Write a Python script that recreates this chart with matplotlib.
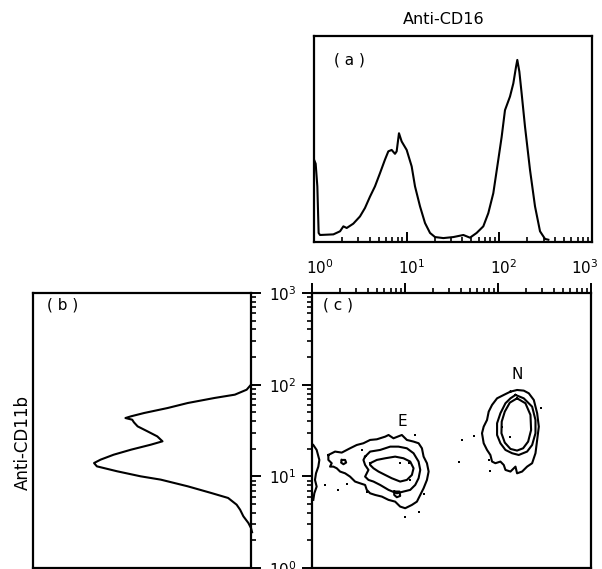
import numpy as np
import matplotlib
matplotlib.use("Agg")
import matplotlib.pyplot as plt
import matplotlib.transforms as mtransforms
from matplotlib.ticker import LogLocator, NullFormatter, NullLocator, LogFormatterSciNotation

plt.rcParams['font.family'] = ['DejaVu Sans']

# ---------------- data ----------------
# (a) Anti-CD16 histogram: log10 fluorescence and relative counts
a_log_fl = [0.000, 0.018, 0.036, 0.050, 0.065, 0.209, 0.281, 0.317, 0.353, 0.424,
            0.496, 0.550, 0.604, 0.658, 0.712, 0.766, 0.802, 0.838, 0.874, 0.892,
            0.917, 0.946, 1.000, 1.054, 1.090, 1.144, 1.198, 1.252, 1.306, 1.396,
            1.504, 1.612, 1.683, 1.755, 1.827, 1.881, 1.935, 1.989, 2.025, 2.061,
            2.115, 2.151, 2.180, 2.194, 2.216, 2.241, 2.277, 2.331, 2.385, 2.439,
            2.493, 2.529]
a_counts = [40, 38, 27, 4.4, 3.4, 3.7, 5.2, 7.6, 6.8, 8.9,
            12.4, 16.5, 22, 27, 33.4, 40, 44, 44.7, 42.8, 44,
            52.8, 48.8, 44.7, 36.7, 27, 17.3, 9.2, 4.4, 2.4, 1.9,
            2.4, 3.4, 2.1, 4.4, 7.6, 14, 23.7, 40, 51, 64,
            70.6, 77, 85, 88.4, 82.7, 72, 56, 35, 17.3, 5.2,
            1.5, 1.1]

# (b) Anti-CD11b histogram (rotated): log10 fluorescence and relative counts
b_log_fl = [2.0, 1.945, 1.891, 1.855, 1.8, 1.745, 1.691, 1.655, 1.636, 1.618,
            1.589, 1.545, 1.491, 1.436, 1.382, 1.345, 1.291, 1.236, 1.182, 1.145,
            1.109, 1.055, 1.0, 0.964, 0.891, 0.818, 0.764, 0.691, 0.636, 0.564,
            0.491, 0.436, 0.39]
b_counts = [0, 2, 7.4, 16.7, 29, 38.3, 49, 55, 57.6, 54.5,
            53.7, 52, 47.5, 43, 40.6, 46, 55, 63, 69, 72,
            70.7, 61.4, 50.6, 41.4, 29, 18.2, 10.5, 6.6, 5, 3.5,
            1.2, 0, -0.5]

# (c) two-parameter contours, vertices as (log10 CD16, log10 CD11b)
E_outer = [(0.176, 1.233), (0.248, 1.270), (0.320, 1.259), (0.409, 1.306), (0.481, 1.342),
           (0.553, 1.361), (0.625, 1.397), (0.697, 1.404), (0.787, 1.433), (0.823, 1.451),
           (0.876, 1.415), (0.966, 1.451), (1.020, 1.397), (1.092, 1.379), (1.146, 1.361),
           (1.182, 1.306), (1.200, 1.215), (1.236, 1.143), (1.254, 1.052), (1.236, 0.961),
           (1.200, 0.870), (1.164, 0.797), (1.128, 0.724), (1.074, 0.688), (1.002, 0.652),
           (0.948, 0.670), (0.894, 0.724), (0.823, 0.743), (0.751, 0.779), (0.679, 0.797),
           (0.625, 0.815), (0.589, 0.852), (0.571, 0.906), (0.517, 0.924), (0.463, 0.943),
           (0.409, 0.997), (0.356, 1.033), (0.302, 1.052), (0.266, 1.088), (0.230, 1.106),
           (0.194, 1.106), (0.212, 1.143), (0.176, 1.179)]
E_middle = [(0.571, 1.215), (0.625, 1.270), (0.733, 1.288), (0.841, 1.324), (0.930, 1.324),
            (1.020, 1.306), (1.092, 1.252), (1.146, 1.161), (1.164, 1.070), (1.146, 0.979),
            (1.110, 0.906), (1.056, 0.852), (0.984, 0.834), (0.912, 0.815), (0.823, 0.852),
            (0.733, 0.906), (0.661, 0.943), (0.607, 0.961), (0.571, 0.997), (0.607, 1.070),
            (0.571, 1.124), (0.553, 1.179)]
E_inner = [(0.625, 1.143), (0.697, 1.179), (0.787, 1.197), (0.894, 1.215), (0.984, 1.197),
           (1.056, 1.161), (1.092, 1.088), (1.074, 1.015), (1.020, 0.961), (0.948, 0.943),
           (0.858, 0.979), (0.787, 1.015), (0.715, 1.052), (0.661, 1.088), (0.625, 1.124)]
E_loop1 = [(0.320, 1.179), (0.356, 1.179), (0.367, 1.150), (0.338, 1.132), (0.313, 1.150)]
E_loop2 = [(0.884, 0.834), (0.941, 0.834), (0.948, 0.786), (0.912, 0.772), (0.884, 0.797)]
N_outer = [(2.134, 1.924), (2.205, 1.942), (2.277, 1.935), (2.331, 1.906), (2.385, 1.833),
           (2.421, 1.688), (2.439, 1.542), (2.421, 1.397), (2.403, 1.252), (2.367, 1.143),
           (2.313, 1.106), (2.259, 1.052), (2.205, 1.033), (2.188, 1.106), (2.134, 1.052),
           (2.080, 1.070), (2.062, 1.124), (2.026, 1.161), (1.972, 1.143), (1.936, 1.161),
           (1.918, 1.233), (1.882, 1.288), (1.846, 1.361), (1.828, 1.470), (1.846, 1.542),
           (1.882, 1.615), (1.900, 1.706), (1.936, 1.779), (1.990, 1.851), (2.062, 1.888)]
N_middle = [(2.188, 1.888), (2.277, 1.851), (2.367, 1.760), (2.403, 1.615), (2.403, 1.470),
            (2.367, 1.342), (2.313, 1.270), (2.223, 1.233), (2.152, 1.252), (2.080, 1.288),
            (2.026, 1.361), (1.990, 1.451), (1.990, 1.579), (2.026, 1.688), (2.080, 1.797),
            (2.134, 1.851)]
N_inner = [(2.205, 1.851), (2.295, 1.797), (2.349, 1.670), (2.356, 1.506), (2.324, 1.379),
           (2.270, 1.306), (2.205, 1.281), (2.134, 1.299), (2.073, 1.368), (2.037, 1.470),
           (2.040, 1.597), (2.073, 1.706), (2.127, 1.804)]
edge_events = [(0.014, 1.342), (0.050, 1.288), (0.079, 1.179), (0.068, 1.106), (0.043, 1.033),
               (0.032, 0.961), (0.050, 0.888), (0.025, 0.815), (0.014, 0.743)]
dots = [(1.110, 1.451), (0.535, 1.288), (0.140, 0.906), (0.284, 0.852), (0.381, 0.917),
        (0.948, 1.143), (1.038, 1.143), (1.056, 0.961), (1.200, 0.808), (1.002, 0.561),
        (1.146, 0.615), (1.613, 1.397), (1.746, 1.444), (1.577, 1.161), (1.900, 1.179),
        (1.918, 1.063), (2.044, 1.542), (2.134, 1.433), (2.457, 1.742), (0.589, 0.834)]

# ---------------- figure ----------------
W, H = 602, 569
fig = plt.figure(figsize=(W / 100, H / 100), dpi=100)

def rect(l, t, r, b):
    return [l / W, 1 - b / H, (r - l) / W, (b - t) / H]

ax_a = fig.add_axes(rect(314, 36, 592, 242))
ax_b = fig.add_axes(rect(33, 293, 251, 568))
ax_c = fig.add_axes(rect(312, 293, 591, 568))

LW = 1.5
for ax in (ax_a, ax_b, ax_c):
    for s in ax.spines.values():
        s.set_linewidth(1.6)

fs = 11

# (a)
ax_a.plot(10 ** np.array(a_log_fl), a_counts, color='black', lw=LW)
ax_a.set_xscale('log')
ax_a.set_xlim(1, 1000)
ax_a.set_ylim(0, 100)
ax_a.yaxis.set_major_locator(NullLocator())
ax_a.xaxis.set_major_locator(LogLocator(base=10, numticks=10))
ax_a.xaxis.set_minor_locator(LogLocator(base=10, subs=np.arange(2, 10), numticks=20))
ax_a.xaxis.set_minor_formatter(NullFormatter())
ax_a.xaxis.set_major_formatter(LogFormatterSciNotation())
ax_a.tick_params(axis='x', which='major', direction='in', length=7, width=1.4,
                 pad=12, labelsize=fs)
ax_a.tick_params(axis='x', which='minor', direction='in', length=3.5, width=1.2)
ax_a.text(0.468, 1.078, 'Anti-CD16', transform=ax_a.transAxes, ha='center',
          va='center', fontsize=11.5)
ax_a.text(0.126, 0.883, '( a )', transform=ax_a.transAxes, ha='center',
          va='center', fontsize=fs)

# (b)
ax_b.plot(b_counts, 10 ** np.array(b_log_fl), color='black', lw=LW, clip_on=False)
ax_b.set_yscale('log')
ax_b.set_ylim(1, 1000)
ax_b.set_xlim(100, 0)
ax_b.xaxis.set_major_locator(NullLocator())
ax_b.yaxis.tick_right()
ax_b.yaxis.set_major_locator(LogLocator(base=10, numticks=10))
ax_b.yaxis.set_minor_locator(LogLocator(base=10, subs=np.arange(2, 10), numticks=20))
ax_b.yaxis.set_minor_formatter(NullFormatter())
ax_b.tick_params(axis='y', which='major', direction='out', length=7, width=1.4,
                 labelright=False)
ax_b.tick_params(axis='y', which='minor', direction='out', length=3.5, width=1.2)
ax_b.text(0.138, 0.956, '( b )', transform=ax_b.transAxes, ha='center',
          va='center', fontsize=fs)
fig.text(23 / W, 1 - 443 / H, 'Anti-CD11b', rotation=90, ha='center',
         va='center', fontsize=12)

# (c)
for poly in (E_outer, E_middle, E_inner, E_loop1, E_loop2, N_outer, N_middle, N_inner):
    p = np.array(poly + [poly[0]])
    ax_c.plot(10 ** p[:, 0], 10 ** p[:, 1], color='black', lw=LW)
p = np.array(edge_events)
ax_c.plot(10 ** p[:, 0], 10 ** p[:, 1], color='black', lw=LW, clip_on=False)
p = np.array(dots)
ax_c.plot(10 ** p[:, 0], 10 ** p[:, 1], 's', color='black', ms=1.6, mew=0)
ax_c.set_xscale('log')
ax_c.set_yscale('log')
ax_c.set_xlim(1, 1000)
ax_c.set_ylim(1, 1000)
ax_c.xaxis.tick_top()
for axis in (ax_c.xaxis, ax_c.yaxis):
    axis.set_major_locator(LogLocator(base=10, numticks=10))
    axis.set_minor_locator(LogLocator(base=10, subs=np.arange(2, 10), numticks=20))
    axis.set_minor_formatter(NullFormatter())
ax_c.yaxis.set_major_formatter(LogFormatterSciNotation())
ax_c.tick_params(axis='x', which='major', direction='out', length=7, width=1.4,
                 labeltop=False)
ax_c.tick_params(axis='x', which='minor', direction='out', length=3.5, width=1.2)
ax_c.tick_params(axis='y', which='major', direction='out', length=7, width=1.4,
                 pad=4, labelsize=fs)
ax_c.tick_params(axis='y', which='minor', direction='out', length=3.5, width=1.2)
ax_c.text(0.093, 0.956, '( c )', transform=ax_c.transAxes, ha='center',
          va='center', fontsize=fs)
ax_c.text(0.323, 0.531, 'E', transform=ax_c.transAxes, ha='center',
          va='center', fontsize=fs)
ax_c.text(0.735, 0.702, 'N', transform=ax_c.transAxes, ha='center',
          va='center', fontsize=fs)

# nudge the shared decade labels of (a) like the original plotter output
fig.canvas.draw()
shifts = [6, 5, 4, -7]
ticks = [t for t in ax_a.xaxis.get_major_ticks()
         if 1 <= t.get_loc() <= 1000]
for t, dx in zip(ticks, shifts):
    t.label1.set_transform(t.label1.get_transform() +
                           mtransforms.ScaledTranslation(dx / 100, 0, fig.dpi_scale_trans))

fig.savefig('out.png', dpi=100)
